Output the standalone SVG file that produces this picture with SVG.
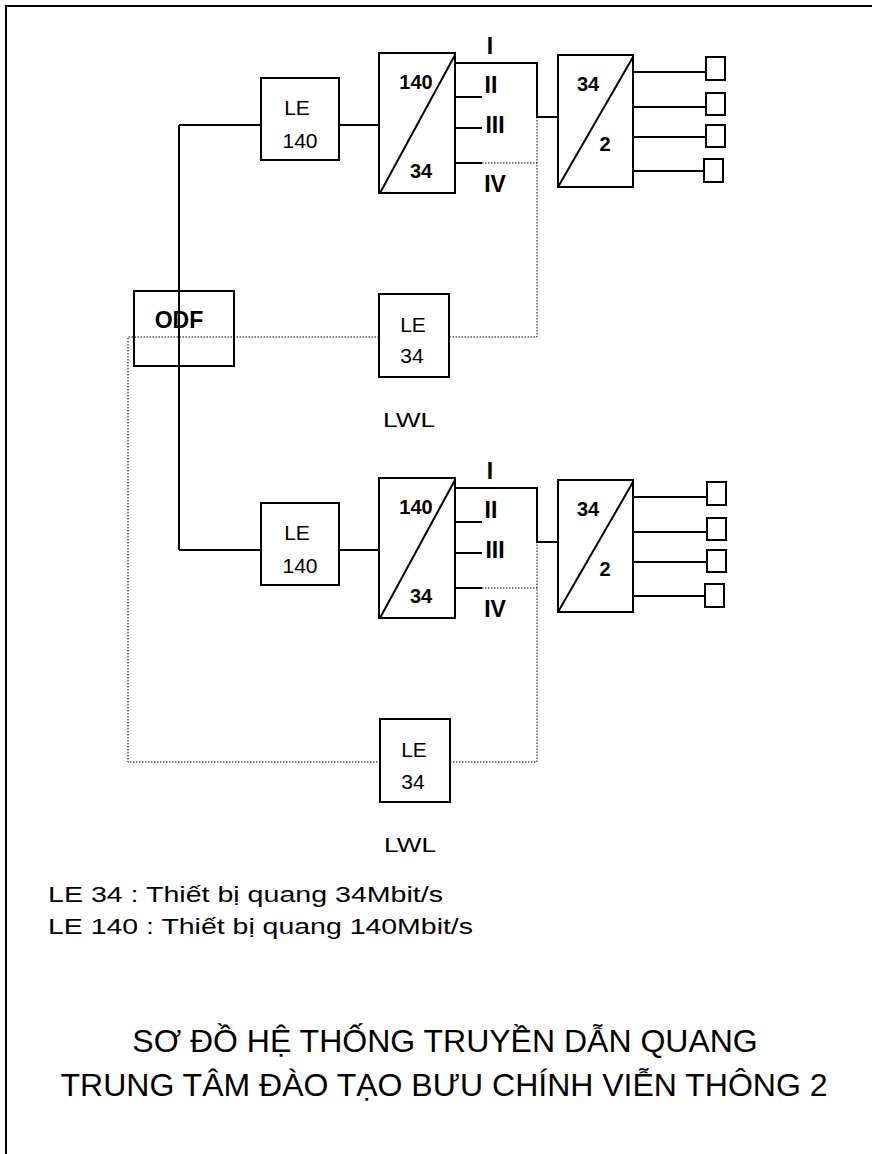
<svg xmlns="http://www.w3.org/2000/svg" width="872" height="1154" viewBox="0 0 872 1154">
<style>
.bx{fill:none;stroke:#000;stroke-width:2}
.ln{fill:none;stroke:#000;stroke-width:2}
.dt{fill:none;stroke:#000;stroke-width:1;stroke-dasharray:1.5 1.5}
.t{font-family:"Liberation Sans",Arial,sans-serif;font-size:21px;fill:#000}
.lg{font-family:"Liberation Sans",Arial,sans-serif;font-size:22px;fill:#000}
.b{font-family:"Liberation Sans",Arial,sans-serif;font-size:20px;font-weight:bold;fill:#000}
.r{font-family:"Liberation Sans",Arial,sans-serif;font-size:23px;font-weight:bold;fill:#000}
.ttl{font-family:"Liberation Sans",Arial,sans-serif;font-size:32px;fill:#000}
</style>
<rect width="872" height="1154" fill="#fff"/>
<path class="ln" d="M6,1154 V6 H872"/>
<g id="connectors">
<path class="ln" d="M179,125 V550 M179,125 H261 M339,125 H380 M179,550 H261 M339,550 H380"/>
<path class="ln" d="M455,63 H537 V117 H558 M455,97 H482 M455,128 H482 M455,163 H482"/>
<path class="ln" d="M455,488 H537 V542 H558 M455,522 H482 M455,553 H482 M455,588 H482"/>
<path class="ln" d="M633,72 H706 M633,107 H706 M633,137 H706 M633,171 H704"/>
<path class="ln" d="M633,497 H707 M633,532 H707 M633,562 H707 M633,596 H705"/>
<path class="dt" d="M482,163 H537 M537,117 V337 H449 M379,337 H128 V762 H380 M450,762 H537 V542 M482,588 H537"/>
</g>
<g id="odf"><rect class="bx" x="134" y="291" width="100" height="75"/><text class="r" x="179" y="328" text-anchor="middle">ODF</text></g>
<g id="le140a"><rect class="bx" x="261" y="78" width="78" height="82"/><text class="t" x="297" y="115" text-anchor="middle">LE</text><text class="t" x="300" y="148" text-anchor="middle">140</text></g>
<g id="mux1a"><rect class="bx" x="379" y="53" width="76" height="140"/><path class="ln" d="M380,193 L455,55"/><text class="b" x="416" y="89" text-anchor="middle">140</text><text class="b" x="421" y="178" text-anchor="middle">34</text></g>
<g id="labelsa"><text class="r" x="490" y="54" text-anchor="middle">I</text><text class="r" x="491" y="93" text-anchor="middle">II</text><text class="r" x="495" y="133" text-anchor="middle">III</text><text class="r" x="495" y="192" text-anchor="middle">IV</text></g>
<g id="mux2a"><rect class="bx" x="558" y="55" width="75" height="132"/><path class="ln" d="M558,187 L633,57"/><text class="b" x="588" y="91" text-anchor="middle">34</text><text class="b" x="605" y="151" text-anchor="middle">2</text></g>
<g id="termsa"><rect class="bx" x="706" y="57" width="19" height="23"/><rect class="bx" x="706" y="93" width="19" height="22"/><rect class="bx" x="706" y="125" width="19" height="22"/><rect class="bx" x="704" y="159" width="19" height="23"/></g>
<g id="le34a"><rect class="bx" x="379" y="294" width="70" height="83"/><text class="t" x="413" y="332" text-anchor="middle">LE</text><text class="t" x="412" y="363" text-anchor="middle">34</text><text class="t" x="383" y="427" textLength="52" lengthAdjust="spacingAndGlyphs">LWL</text></g>
<g id="le140b"><rect class="bx" x="261" y="503" width="78" height="82"/><text class="t" x="297" y="540" text-anchor="middle">LE</text><text class="t" x="300" y="573" text-anchor="middle">140</text></g>
<g id="mux1b"><rect class="bx" x="379" y="478" width="76" height="140"/><path class="ln" d="M380,618 L455,480"/><text class="b" x="416" y="514" text-anchor="middle">140</text><text class="b" x="421" y="603" text-anchor="middle">34</text></g>
<g id="labelsb"><text class="r" x="490" y="479" text-anchor="middle">I</text><text class="r" x="491" y="518" text-anchor="middle">II</text><text class="r" x="495" y="558" text-anchor="middle">III</text><text class="r" x="495" y="617" text-anchor="middle">IV</text></g>
<g id="mux2b"><rect class="bx" x="558" y="480" width="75" height="132"/><path class="ln" d="M558,612 L633,482"/><text class="b" x="588" y="516" text-anchor="middle">34</text><text class="b" x="605" y="576" text-anchor="middle">2</text></g>
<g id="termsb"><rect class="bx" x="707" y="482" width="19" height="23"/><rect class="bx" x="707" y="518" width="19" height="22"/><rect class="bx" x="707" y="550" width="19" height="22"/><rect class="bx" x="705" y="584" width="19" height="23"/></g>
<g id="le34b"><rect class="bx" x="380" y="719" width="70" height="83"/><text class="t" x="414" y="757" text-anchor="middle">LE</text><text class="t" x="413" y="789" text-anchor="middle">34</text><text class="t" x="384" y="852" textLength="52" lengthAdjust="spacingAndGlyphs">LWL</text></g>
<g id="legend"><text class="lg" x="48" y="902" textLength="395" lengthAdjust="spacingAndGlyphs">LE 34 : Thiết bị quang 34Mbit/s</text><text class="lg" x="48" y="934" textLength="425" lengthAdjust="spacingAndGlyphs">LE 140 : Thiết bị quang 140Mbit/s</text></g>
<g id="title"><text class="ttl" x="445" y="1052" text-anchor="middle">SƠ ĐỒ HỆ THỐNG TRUYỀN DẪN QUANG</text><text class="ttl" x="444" y="1096" text-anchor="middle">TRUNG TÂM ĐÀO TẠO BƯU CHÍNH VIỄN THÔNG 2</text></g>
</svg>
